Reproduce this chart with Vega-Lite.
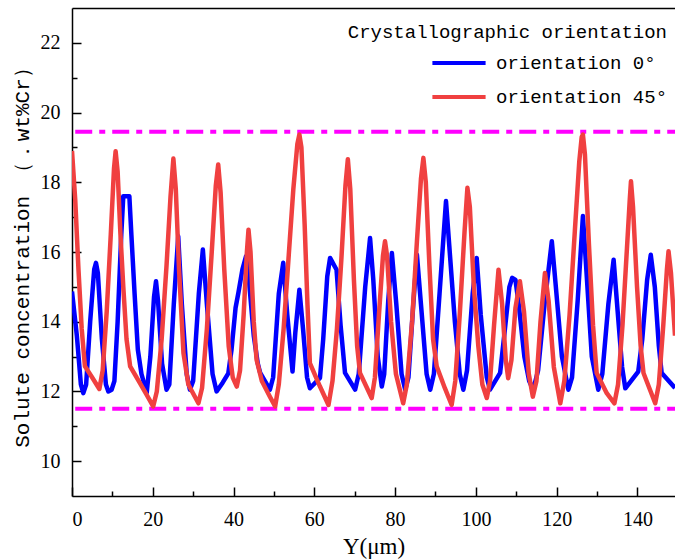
{
  "$schema": "https://vega.github.io/schema/vega-lite/v6.json",
  "autosize": {"type": "none"},
  "padding": {"left": 72, "top": 8, "right": 0, "bottom": 64},
  "width": 603,
  "height": 488,
  "background": "white",
  "view": {"stroke": null},
  "config": {
    "axis": {"grid": false, "domainColor": "black", "domainWidth": 1.5, "tickColor": "black", "tickWidth": 1.5, "labelColor": "black", "labelFont": "Liberation Serif", "labelFontSize": 20, "titleColor": "black", "titleFontWeight": "normal"},
    "legend": {"labelFont": "Liberation Mono", "titleFont": "Liberation Mono", "labelFontSize": 19, "titleFontSize": 19, "titleFontWeight": "normal", "labelColor": "black", "titleColor": "black", "labelLimit": 400, "titleLimit": 500}
  },
  "datasets": {
    "limits": [
      {"level": 19.45, "xs": 0.8, "xe": 149.3},
      {"level": 11.5, "xs": 0.8, "xe": 149.3}
    ],
    "conc": [
      {"series": "orientation 0°", "pos": 0, "value": 14.87},
      {"series": "orientation 0°", "pos": 1.2, "value": 13.6},
      {"series": "orientation 0°", "pos": 2.2, "value": 12.2},
      {"series": "orientation 0°", "pos": 2.8, "value": 11.95},
      {"series": "orientation 0°", "pos": 3.5, "value": 12.2},
      {"series": "orientation 0°", "pos": 4.5, "value": 14.0},
      {"series": "orientation 0°", "pos": 5.5, "value": 15.5},
      {"series": "orientation 0°", "pos": 5.94, "value": 15.69},
      {"series": "orientation 0°", "pos": 6.4, "value": 15.4},
      {"series": "orientation 0°", "pos": 7.4, "value": 13.5},
      {"series": "orientation 0°", "pos": 8.4, "value": 12.2},
      {"series": "orientation 0°", "pos": 9.0, "value": 12.0},
      {"series": "orientation 0°", "pos": 9.8, "value": 12.05},
      {"series": "orientation 0°", "pos": 10.5, "value": 12.3},
      {"series": "orientation 0°", "pos": 11.3, "value": 14.0},
      {"series": "orientation 0°", "pos": 12.2, "value": 16.5},
      {"series": "orientation 0°", "pos": 12.7, "value": 17.6},
      {"series": "orientation 0°", "pos": 14.2, "value": 17.6},
      {"series": "orientation 0°", "pos": 14.7, "value": 16.5},
      {"series": "orientation 0°", "pos": 15.5, "value": 14.8},
      {"series": "orientation 0°", "pos": 16.3, "value": 13.2},
      {"series": "orientation 0°", "pos": 17.2, "value": 12.5},
      {"series": "orientation 0°", "pos": 18.5, "value": 11.96},
      {"series": "orientation 0°", "pos": 19.4, "value": 13.0},
      {"series": "orientation 0°", "pos": 20.3, "value": 14.7},
      {"series": "orientation 0°", "pos": 20.8, "value": 15.16},
      {"series": "orientation 0°", "pos": 21.3, "value": 14.6},
      {"series": "orientation 0°", "pos": 22.3, "value": 12.8},
      {"series": "orientation 0°", "pos": 23.4, "value": 12.05},
      {"series": "orientation 0°", "pos": 24.1, "value": 12.2},
      {"series": "orientation 0°", "pos": 25.2, "value": 14.5},
      {"series": "orientation 0°", "pos": 26.3, "value": 16.45},
      {"series": "orientation 0°", "pos": 27.2, "value": 14.5},
      {"series": "orientation 0°", "pos": 28.4, "value": 12.5},
      {"series": "orientation 0°", "pos": 29.2, "value": 12.05},
      {"series": "orientation 0°", "pos": 30.0, "value": 12.3},
      {"series": "orientation 0°", "pos": 31.4, "value": 14.8},
      {"series": "orientation 0°", "pos": 32.4, "value": 16.07},
      {"series": "orientation 0°", "pos": 33.4, "value": 14.5},
      {"series": "orientation 0°", "pos": 34.8, "value": 12.5},
      {"series": "orientation 0°", "pos": 35.8, "value": 12.0},
      {"series": "orientation 0°", "pos": 37.3, "value": 12.25},
      {"series": "orientation 0°", "pos": 38.7, "value": 12.52},
      {"series": "orientation 0°", "pos": 39.5, "value": 13.2},
      {"series": "orientation 0°", "pos": 40.5, "value": 14.4},
      {"series": "orientation 0°", "pos": 41.2, "value": 14.83},
      {"series": "orientation 0°", "pos": 42.2, "value": 15.5},
      {"series": "orientation 0°", "pos": 43.1, "value": 15.88},
      {"series": "orientation 0°", "pos": 43.8, "value": 15.2},
      {"series": "orientation 0°", "pos": 45.0, "value": 13.6},
      {"series": "orientation 0°", "pos": 46.0, "value": 12.8},
      {"series": "orientation 0°", "pos": 46.6, "value": 12.53},
      {"series": "orientation 0°", "pos": 49.0, "value": 12.05},
      {"series": "orientation 0°", "pos": 49.8, "value": 12.4},
      {"series": "orientation 0°", "pos": 51.2, "value": 14.8},
      {"series": "orientation 0°", "pos": 52.3, "value": 15.69},
      {"series": "orientation 0°", "pos": 53.3, "value": 14.2},
      {"series": "orientation 0°", "pos": 54.6, "value": 12.57},
      {"series": "orientation 0°", "pos": 55.3, "value": 13.7},
      {"series": "orientation 0°", "pos": 56.3, "value": 14.92},
      {"series": "orientation 0°", "pos": 57.2, "value": 13.8},
      {"series": "orientation 0°", "pos": 58.2, "value": 12.4},
      {"series": "orientation 0°", "pos": 58.9, "value": 12.09},
      {"series": "orientation 0°", "pos": 61.4, "value": 12.39},
      {"series": "orientation 0°", "pos": 62.2, "value": 13.5},
      {"series": "orientation 0°", "pos": 63.2, "value": 15.3},
      {"series": "orientation 0°", "pos": 63.9, "value": 15.83},
      {"series": "orientation 0°", "pos": 65.5, "value": 15.49},
      {"series": "orientation 0°", "pos": 66.5, "value": 13.9},
      {"series": "orientation 0°", "pos": 67.6, "value": 12.53},
      {"series": "orientation 0°", "pos": 70.1, "value": 12.05},
      {"series": "orientation 0°", "pos": 71.0, "value": 12.5},
      {"series": "orientation 0°", "pos": 72.6, "value": 15.0},
      {"series": "orientation 0°", "pos": 73.8, "value": 16.4},
      {"series": "orientation 0°", "pos": 74.6, "value": 15.2},
      {"series": "orientation 0°", "pos": 75.7, "value": 13.0},
      {"series": "orientation 0°", "pos": 76.7, "value": 12.14},
      {"series": "orientation 0°", "pos": 77.3, "value": 12.5},
      {"series": "orientation 0°", "pos": 78.3, "value": 14.6},
      {"series": "orientation 0°", "pos": 79.2, "value": 15.97},
      {"series": "orientation 0°", "pos": 80.3, "value": 14.5},
      {"series": "orientation 0°", "pos": 81.6, "value": 12.5},
      {"series": "orientation 0°", "pos": 82.5, "value": 12.05},
      {"series": "orientation 0°", "pos": 83.3, "value": 12.4},
      {"series": "orientation 0°", "pos": 84.5, "value": 14.5},
      {"series": "orientation 0°", "pos": 85.4, "value": 15.92},
      {"series": "orientation 0°", "pos": 86.4, "value": 14.5},
      {"series": "orientation 0°", "pos": 87.8, "value": 12.5},
      {"series": "orientation 0°", "pos": 88.7, "value": 12.05},
      {"series": "orientation 0°", "pos": 89.6, "value": 12.5},
      {"series": "orientation 0°", "pos": 91.0, "value": 14.8},
      {"series": "orientation 0°", "pos": 92.6, "value": 17.46},
      {"series": "orientation 0°", "pos": 93.4, "value": 16.2},
      {"series": "orientation 0°", "pos": 94.8, "value": 14.0},
      {"series": "orientation 0°", "pos": 96.0, "value": 12.5},
      {"series": "orientation 0°", "pos": 96.9, "value": 12.05},
      {"series": "orientation 0°", "pos": 97.8, "value": 12.6},
      {"series": "orientation 0°", "pos": 99.2, "value": 14.8},
      {"series": "orientation 0°", "pos": 100.2, "value": 15.83},
      {"series": "orientation 0°", "pos": 101.2, "value": 14.2},
      {"series": "orientation 0°", "pos": 102.7, "value": 12.4},
      {"series": "orientation 0°", "pos": 103.5, "value": 12.05},
      {"series": "orientation 0°", "pos": 106.0, "value": 12.53},
      {"series": "orientation 0°", "pos": 107.2, "value": 13.8},
      {"series": "orientation 0°", "pos": 108.3, "value": 15.0},
      {"series": "orientation 0°", "pos": 109.0, "value": 15.26},
      {"series": "orientation 0°", "pos": 109.8, "value": 15.2},
      {"series": "orientation 0°", "pos": 110.6, "value": 14.5},
      {"series": "orientation 0°", "pos": 112.0, "value": 13.0},
      {"series": "orientation 0°", "pos": 113.2, "value": 12.3},
      {"series": "orientation 0°", "pos": 114.2, "value": 12.05},
      {"series": "orientation 0°", "pos": 115.4, "value": 12.6},
      {"series": "orientation 0°", "pos": 117.0, "value": 14.5},
      {"series": "orientation 0°", "pos": 118.8, "value": 16.31},
      {"series": "orientation 0°", "pos": 119.8, "value": 15.0},
      {"series": "orientation 0°", "pos": 121.3, "value": 13.0},
      {"series": "orientation 0°", "pos": 122.9, "value": 12.05},
      {"series": "orientation 0°", "pos": 123.8, "value": 12.4},
      {"series": "orientation 0°", "pos": 125.2, "value": 14.6},
      {"series": "orientation 0°", "pos": 126.5, "value": 17.03},
      {"series": "orientation 0°", "pos": 127.4, "value": 15.4},
      {"series": "orientation 0°", "pos": 128.7, "value": 13.0},
      {"series": "orientation 0°", "pos": 130.3, "value": 12.05},
      {"series": "orientation 0°", "pos": 131.3, "value": 12.5},
      {"series": "orientation 0°", "pos": 132.8, "value": 14.5},
      {"series": "orientation 0°", "pos": 134.1, "value": 15.78},
      {"series": "orientation 0°", "pos": 135.1, "value": 14.3},
      {"series": "orientation 0°", "pos": 136.2, "value": 12.7},
      {"series": "orientation 0°", "pos": 137.0, "value": 12.09},
      {"series": "orientation 0°", "pos": 140.2, "value": 12.57},
      {"series": "orientation 0°", "pos": 141.2, "value": 13.5},
      {"series": "orientation 0°", "pos": 142.4, "value": 15.2},
      {"series": "orientation 0°", "pos": 143.3, "value": 15.92},
      {"series": "orientation 0°", "pos": 144.3, "value": 15.0},
      {"series": "orientation 0°", "pos": 145.3, "value": 13.3},
      {"series": "orientation 0°", "pos": 146.0, "value": 12.53},
      {"series": "orientation 0°", "pos": 149.3, "value": 12.1},
      {"series": "orientation 45°", "pos": 0, "value": 18.9},
      {"series": "orientation 45°", "pos": 0.8, "value": 17.5},
      {"series": "orientation 45°", "pos": 1.6, "value": 15.5},
      {"series": "orientation 45°", "pos": 2.4, "value": 13.8},
      {"series": "orientation 45°", "pos": 3.2, "value": 12.72},
      {"series": "orientation 45°", "pos": 5.0, "value": 12.4},
      {"series": "orientation 45°", "pos": 6.77, "value": 12.07},
      {"series": "orientation 45°", "pos": 7.6, "value": 12.6},
      {"series": "orientation 45°", "pos": 8.6, "value": 14.3},
      {"series": "orientation 45°", "pos": 9.6, "value": 16.5},
      {"series": "orientation 45°", "pos": 10.4, "value": 18.4},
      {"series": "orientation 45°", "pos": 10.8, "value": 18.89},
      {"series": "orientation 45°", "pos": 11.3, "value": 18.3},
      {"series": "orientation 45°", "pos": 12.0, "value": 16.5},
      {"series": "orientation 45°", "pos": 12.7, "value": 15.0},
      {"series": "orientation 45°", "pos": 13.5, "value": 13.5},
      {"series": "orientation 45°", "pos": 14.4, "value": 12.72},
      {"series": "orientation 45°", "pos": 16.5, "value": 12.3},
      {"series": "orientation 45°", "pos": 18.5, "value": 11.9},
      {"series": "orientation 45°", "pos": 20.1, "value": 11.57},
      {"series": "orientation 45°", "pos": 21.0, "value": 12.0},
      {"series": "orientation 45°", "pos": 22.2, "value": 13.5},
      {"series": "orientation 45°", "pos": 23.4, "value": 15.6},
      {"series": "orientation 45°", "pos": 24.4, "value": 17.6},
      {"series": "orientation 45°", "pos": 25.1, "value": 18.68},
      {"series": "orientation 45°", "pos": 25.7, "value": 17.8},
      {"series": "orientation 45°", "pos": 26.5, "value": 15.5},
      {"series": "orientation 45°", "pos": 27.6, "value": 13.1},
      {"series": "orientation 45°", "pos": 28.8, "value": 12.2},
      {"series": "orientation 45°", "pos": 31.3, "value": 11.66},
      {"series": "orientation 45°", "pos": 32.2, "value": 12.1},
      {"series": "orientation 45°", "pos": 33.4, "value": 13.8},
      {"series": "orientation 45°", "pos": 34.6, "value": 16.0},
      {"series": "orientation 45°", "pos": 35.6, "value": 17.9},
      {"series": "orientation 45°", "pos": 36.2, "value": 18.51},
      {"series": "orientation 45°", "pos": 36.8, "value": 17.7},
      {"series": "orientation 45°", "pos": 37.7, "value": 15.5},
      {"series": "orientation 45°", "pos": 38.8, "value": 13.3},
      {"series": "orientation 45°", "pos": 39.8, "value": 12.4},
      {"series": "orientation 45°", "pos": 40.8, "value": 12.14},
      {"series": "orientation 45°", "pos": 41.6, "value": 12.6},
      {"series": "orientation 45°", "pos": 42.5, "value": 14.2},
      {"series": "orientation 45°", "pos": 43.3, "value": 16.0},
      {"series": "orientation 45°", "pos": 43.7, "value": 16.64},
      {"series": "orientation 45°", "pos": 44.2, "value": 16.0},
      {"series": "orientation 45°", "pos": 45.0, "value": 14.0},
      {"series": "orientation 45°", "pos": 45.7, "value": 12.91},
      {"series": "orientation 45°", "pos": 47.0, "value": 12.3},
      {"series": "orientation 45°", "pos": 49.0, "value": 11.85},
      {"series": "orientation 45°", "pos": 50.3, "value": 11.57},
      {"series": "orientation 45°", "pos": 51.2, "value": 12.2},
      {"series": "orientation 45°", "pos": 52.4, "value": 13.8},
      {"series": "orientation 45°", "pos": 53.6, "value": 15.8},
      {"series": "orientation 45°", "pos": 54.8, "value": 17.8},
      {"series": "orientation 45°", "pos": 55.8, "value": 19.1},
      {"series": "orientation 45°", "pos": 56.3, "value": 19.37},
      {"series": "orientation 45°", "pos": 56.8, "value": 19.0},
      {"series": "orientation 45°", "pos": 57.6, "value": 16.8},
      {"series": "orientation 45°", "pos": 58.3, "value": 14.5},
      {"series": "orientation 45°", "pos": 58.9, "value": 12.81},
      {"series": "orientation 45°", "pos": 61.4, "value": 12.14},
      {"series": "orientation 45°", "pos": 63.5, "value": 11.61},
      {"series": "orientation 45°", "pos": 64.5, "value": 12.3},
      {"series": "orientation 45°", "pos": 65.6, "value": 13.8},
      {"series": "orientation 45°", "pos": 66.7, "value": 15.8},
      {"series": "orientation 45°", "pos": 67.7, "value": 17.9},
      {"series": "orientation 45°", "pos": 68.3, "value": 18.66},
      {"series": "orientation 45°", "pos": 68.9, "value": 17.8},
      {"series": "orientation 45°", "pos": 69.8, "value": 15.2},
      {"series": "orientation 45°", "pos": 70.6, "value": 13.3},
      {"series": "orientation 45°", "pos": 71.3, "value": 12.53},
      {"series": "orientation 45°", "pos": 74.2, "value": 11.81},
      {"series": "orientation 45°", "pos": 75.0, "value": 12.4},
      {"series": "orientation 45°", "pos": 76.0, "value": 14.2},
      {"series": "orientation 45°", "pos": 77.0, "value": 15.9},
      {"series": "orientation 45°", "pos": 77.5, "value": 16.31},
      {"series": "orientation 45°", "pos": 78.0, "value": 15.9},
      {"series": "orientation 45°", "pos": 79.0, "value": 14.0},
      {"series": "orientation 45°", "pos": 80.2, "value": 12.5},
      {"series": "orientation 45°", "pos": 82.0, "value": 11.66},
      {"series": "orientation 45°", "pos": 82.9, "value": 12.2},
      {"series": "orientation 45°", "pos": 84.2, "value": 14.0},
      {"series": "orientation 45°", "pos": 85.4, "value": 16.3},
      {"series": "orientation 45°", "pos": 86.4, "value": 18.1},
      {"series": "orientation 45°", "pos": 87.0, "value": 18.7},
      {"series": "orientation 45°", "pos": 87.6, "value": 18.0},
      {"series": "orientation 45°", "pos": 88.5, "value": 15.6},
      {"series": "orientation 45°", "pos": 89.4, "value": 13.5},
      {"series": "orientation 45°", "pos": 90.3, "value": 12.72},
      {"series": "orientation 45°", "pos": 92.3, "value": 12.1},
      {"series": "orientation 45°", "pos": 94.0, "value": 11.61},
      {"series": "orientation 45°", "pos": 94.9, "value": 12.3},
      {"series": "orientation 45°", "pos": 96.0, "value": 14.2},
      {"series": "orientation 45°", "pos": 97.2, "value": 16.6},
      {"series": "orientation 45°", "pos": 97.9, "value": 17.84},
      {"series": "orientation 45°", "pos": 98.5, "value": 17.3},
      {"series": "orientation 45°", "pos": 99.5, "value": 15.0},
      {"series": "orientation 45°", "pos": 100.6, "value": 13.3},
      {"series": "orientation 45°", "pos": 101.6, "value": 12.2},
      {"series": "orientation 45°", "pos": 102.7, "value": 11.81},
      {"series": "orientation 45°", "pos": 103.5, "value": 12.3},
      {"series": "orientation 45°", "pos": 104.5, "value": 13.9},
      {"series": "orientation 45°", "pos": 105.6, "value": 15.49},
      {"series": "orientation 45°", "pos": 106.5, "value": 14.5},
      {"series": "orientation 45°", "pos": 107.4, "value": 12.9},
      {"series": "orientation 45°", "pos": 108.0, "value": 12.38},
      {"series": "orientation 45°", "pos": 108.8, "value": 12.9},
      {"series": "orientation 45°", "pos": 109.8, "value": 14.4},
      {"series": "orientation 45°", "pos": 110.9, "value": 15.16},
      {"series": "orientation 45°", "pos": 111.9, "value": 14.3},
      {"series": "orientation 45°", "pos": 113.1, "value": 12.5},
      {"series": "orientation 45°", "pos": 114.1, "value": 11.85},
      {"series": "orientation 45°", "pos": 115.0, "value": 12.3},
      {"series": "orientation 45°", "pos": 116.0, "value": 14.0},
      {"series": "orientation 45°", "pos": 117.1, "value": 15.4},
      {"series": "orientation 45°", "pos": 118.0, "value": 14.6},
      {"series": "orientation 45°", "pos": 119.3, "value": 12.7},
      {"series": "orientation 45°", "pos": 120.9, "value": 11.66},
      {"series": "orientation 45°", "pos": 121.9, "value": 12.3},
      {"series": "orientation 45°", "pos": 123.2, "value": 14.2},
      {"series": "orientation 45°", "pos": 124.5, "value": 16.6},
      {"series": "orientation 45°", "pos": 125.6, "value": 18.6},
      {"series": "orientation 45°", "pos": 126.2, "value": 19.3},
      {"series": "orientation 45°", "pos": 126.5, "value": 19.37},
      {"series": "orientation 45°", "pos": 127.0, "value": 18.8},
      {"series": "orientation 45°", "pos": 128.0, "value": 16.2},
      {"series": "orientation 45°", "pos": 129.0, "value": 13.9},
      {"series": "orientation 45°", "pos": 129.9, "value": 12.53},
      {"series": "orientation 45°", "pos": 132.4, "value": 11.95},
      {"series": "orientation 45°", "pos": 134.3, "value": 11.66},
      {"series": "orientation 45°", "pos": 135.2, "value": 12.2},
      {"series": "orientation 45°", "pos": 136.3, "value": 13.9},
      {"series": "orientation 45°", "pos": 137.4, "value": 16.1},
      {"series": "orientation 45°", "pos": 138.1, "value": 17.5},
      {"series": "orientation 45°", "pos": 138.4, "value": 18.03},
      {"series": "orientation 45°", "pos": 138.9, "value": 17.3},
      {"series": "orientation 45°", "pos": 139.9, "value": 15.0},
      {"series": "orientation 45°", "pos": 140.8, "value": 13.3},
      {"series": "orientation 45°", "pos": 141.5, "value": 12.53},
      {"series": "orientation 45°", "pos": 144.4, "value": 11.66},
      {"series": "orientation 45°", "pos": 145.3, "value": 12.2},
      {"series": "orientation 45°", "pos": 146.4, "value": 13.9},
      {"series": "orientation 45°", "pos": 147.3, "value": 15.5},
      {"series": "orientation 45°", "pos": 147.7, "value": 16.02},
      {"series": "orientation 45°", "pos": 148.3, "value": 15.4},
      {"series": "orientation 45°", "pos": 149.3, "value": 13.6}
    ]
  },
  "layer": [
    {
      "data": {"name": "limits"},
      "mark": {"type": "rule", "color": "#FF00FF", "strokeWidth": 4, "strokeDash": [17, 7, 6, 7]},
      "encoding": {
        "x": {"field": "xs", "type": "quantitative", "scale": {"domain": [0, 149.3], "nice": false, "zero": false}, "axis": {"orient": "top", "domain": true, "ticks": false, "labels": false, "title": null}},
        "x2": {"field": "xe"},
        "y": {"field": "level", "type": "quantitative"}
      }
    },
    {
      "data": {"name": "conc"},
      "mark": {"type": "line", "strokeWidth": 4.5, "strokeJoin": "round", "clip": true},
      "encoding": {
        "x": {
          "field": "pos", "type": "quantitative",
          "scale": {"domain": [0, 149.3], "nice": false, "zero": false},
          "axis": {
            "orient": "bottom",
            "values": [0, 10, 20, 30, 40, 50, 60, 70, 80, 90, 100, 110, 120, 130, 140],
            "labelExpr": "datum.value % 20 == 0 ? datum.label : ''",
            "tickSize": {"condition": {"test": "datum.value % 20 != 0", "value": -5}, "value": -9},
            "labelPadding": 22,
            "title": "Y(μm)",
            "titleFont": "Liberation Serif",
            "titleFontSize": 23,
            "titlePadding": 6
          }
        },
        "y": {
          "field": "value", "type": "quantitative",
          "scale": {"domain": [9, 23], "nice": false, "zero": false},
          "axis": {
            "values": [10, 11, 12, 13, 14, 15, 16, 17, 18, 19, 20, 21, 22],
            "labelExpr": "datum.value % 2 == 0 ? datum.label : ''",
            "tickSize": {"condition": {"test": "datum.value % 2 != 0", "value": -5}, "value": -9},
            "labelPadding": 21,
            "title": "Solute concentration （．wt%Cr）",
            "titleFont": "Liberation Mono",
            "titleFontSize": 21,
            "titlePadding": 8
          }
        },
        "color": {
          "field": "series", "type": "nominal",
          "scale": {"domain": ["orientation 0°", "orientation 45°"], "range": ["#0000FF", "#F04040"]},
          "legend": {
            "title": "Crystallographic orientation",
            "orient": "top-right",
            "offset": 7,
            "titleAnchor": "end",
            "titleBaseline": "line-top",
            "titleLineHeight": 34,
            "symbolType": "M-1.4,0H1.4",
            "symbolSize": 1444,
            "symbolStrokeWidth": 4,
            "symbolOffset": 107,
            "labelOffset": 16,
            "rowPadding": 3,
            "titlePadding": 8
          }
        }
      }
    }
  ],
  "resolve": {"axis": {"x": "independent"}}
}
